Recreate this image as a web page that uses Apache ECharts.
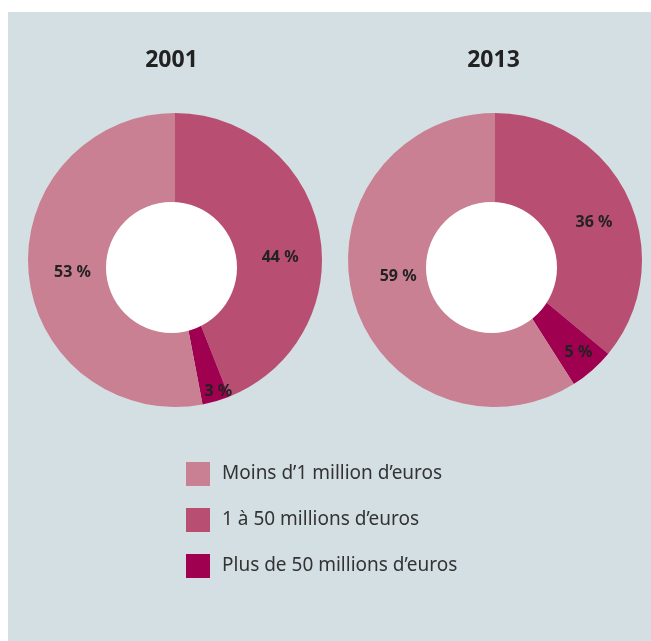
<!DOCTYPE html>
<html><head><meta charset="utf-8">
<script src="https://cdn.jsdelivr.net/npm/echarts@6/dist/echarts.min.js"></script>
<style>
html,body{margin:0;padding:0;background:#fff;}
#panel{position:absolute;left:8px;top:12px;width:643px;height:629px;background:#d4dfe3;}
#chart{position:absolute;left:0;top:0;width:651px;height:641px;}
</style></head>
<body><div id="panel"></div><div id="chart"></div>
<script>
// Data (clockwise order from 12 o'clock)
const categories = ['1 à 50 millions d’euros', 'Plus de 50 millions d’euros', 'Moins d’1 million d’euros'];
const legendOrder = ['Moins d’1 million d’euros', '1 à 50 millions d’euros', 'Plus de 50 millions d’euros'];
const years = ['2001', '2013'];
const values2001 = [44, 3, 53];
const values2013 = [36, 5, 59];

const colors = {
  'Moins d’1 million d’euros': '#c98093',
  '1 à 50 millions d’euros': '#b84f72',
  'Plus de 50 millions d’euros': '#a00050'
};
// label nudges [dx, dy] in px from the default inside position
const nudge2001 = [[2, 17], [14, 31], [2, 3]];
const nudge2013 = [[4, 7], [14, 14], [4, -13]];

const FONT = 'Noto Sans';
function pieSeries(values, center, nudges) {
  return {
    type: 'pie', center: center, radius: [57, 147], startAngle: 90, clockwise: true,
    silent: true, z: 2,
    itemStyle: { borderWidth: 0 },
    label: {
      show: true, position: 'inside', color: '#222', fontFamily: FONT, fontWeight: 'bold', fontSize: 16
    },
    labelLine: { show: false },
    emphasis: { disabled: true },
    data: categories.map((c, i) => {
      const dx = nudges[i][0], dy = nudges[i][1];
      const sp = Math.abs(dy) * 2;
      const rich = { v: { color: '#222', fontFamily: FONT, fontWeight: 'bold', fontSize: 16, lineHeight: 18 }, s: { lineHeight: sp, height: sp, fontSize: 1 } };
      let fmt = '{v|' + values[i] + ' %}';
      if (dy > 0) fmt = '{s| }\n' + fmt;
      else if (dy < 0) fmt = fmt + '\n{s| }';
      return {
        name: c, value: values[i], itemStyle: { color: colors[c] },
        label: { formatter: fmt, rich: rich, padding: [0, Math.max(0, -2 * dx), 0, Math.max(0, 2 * dx)] }
      };
    })
  };
}
function disc(center) {
  return {
    type: 'pie', center: center, radius: [0, 65.5], silent: true, z: 5,
    label: { show: false }, labelLine: { show: false }, emphasis: { disabled: true },
    itemStyle: { color: '#ffffff', borderWidth: 0 },
    data: [{ name: 'hole', value: 1 }]
  };
}

const chart = echarts.init(document.getElementById('chart'), null, { renderer: 'canvas' });
chart.setOption({
  animation: false,
  backgroundColor: 'transparent',
  title: [
    { text: years[0], left: 171.5, top: 49, padding: 0, textAlign: 'center', textStyle: { fontFamily: FONT, fontWeight: 'bold', fontSize: 23, color: '#222' } },
    { text: years[1], left: 493.5, top: 49, padding: 0, textAlign: 'center', textStyle: { fontFamily: FONT, fontWeight: 'bold', fontSize: 23, color: '#222' } }
  ],
  legend: {
    data: legendOrder, orient: 'vertical', left: 186, top: 462, padding: 0,
    itemWidth: 24, itemHeight: 24, itemGap: 22, icon: 'rect',
    selectedMode: false,
    textStyle: { fontFamily: FONT, fontSize: 19, color: '#333', padding: [0, 0, 0, 7] }
  },
  series: [
    pieSeries(values2001, [175, 260], nudge2001),
    disc([171.5, 267.5]),
    pieSeries(values2013, [495, 260], nudge2013),
    disc([491.5, 267.5])
  ]
});
</script></body></html>
